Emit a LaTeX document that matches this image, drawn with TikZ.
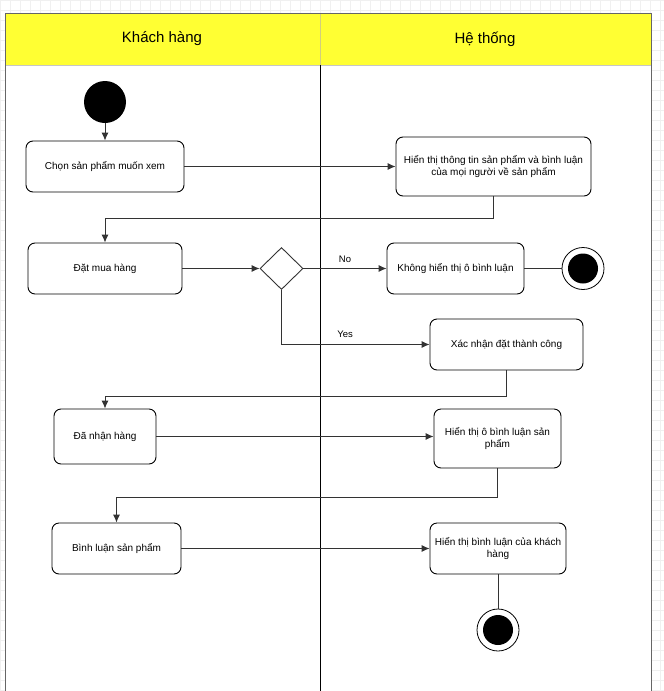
\documentclass[tikz,border=0pt]{standalone}
\usepackage{fontspec}
\setmainfont{Liberation Sans}
\usetikzlibrary{shapes.geometric,arrows.meta}
\definecolor{hdr}{HTML}{FFFF33}
\definecolor{gridc}{HTML}{F0F0F0}
\definecolor{framec}{HTML}{666666}
\definecolor{linec}{HTML}{333333}
\begin{document}
\begin{tikzpicture}[x=1pt,y=-1pt,
  act/.style={draw=black, line width=0.9pt, rounded corners=7pt, align=center,
    font=\fontsize{10}{12.5}\selectfont, inner sep=2pt, fill=white},
  decision/.style={diamond, draw=linec, line width=0.9pt, fill=white, inner sep=0pt, minimum width=43pt, minimum height=42pt},
  startnode/.style={circle, fill=black, inner sep=0pt, minimum size=42pt},
  endnode/.style={circle, draw=black, line width=0.8pt, fill=white, inner sep=0pt, minimum size=42pt},
  arr/.style={draw=linec, line width=0.9pt, -{Latex[length=8pt,width=7pt]}},
  plain/.style={draw=linec, line width=0.9pt},
  lbl/.style={font=\fontsize{9.5}{11}\selectfont, inner sep=0pt},
  hdrtext/.style={font=\fontsize{15}{18}\selectfont, inner sep=0pt}
]
\useasboundingbox (0,0) rectangle (664,691);
\fill[white] (0,0) rectangle (664,691);
\draw[gridc, line width=0.5pt, step=10pt] (0,0) grid (664,691);
% pool
\fill[white] (5,65) rectangle (651,691);
\fill[hdr] (5,13) rectangle (651,65);
\draw[gray!45, line width=0.8pt] (5,65) -- (651,65);
\draw[olive!40, line width=0.8pt] (320,13) -- (320,65);
\draw[black, line width=0.9pt] (320,65) -- (320,691);
\draw[framec, line width=0.9pt] (5,691) -- (5,13) -- (651,13) -- (651,691);
\node[hdrtext] (h1) at (162,39) {Khách hàng};
\node[hdrtext] (h2) at (485,39) {Hệ thống};
% nodes
\node[startnode] (start) at (105,102) {};
\node[act, minimum width=158pt, minimum height=51pt] (chon) at (105,166.5) {Chọn sản phẩm muốn xem};
\node[act, minimum width=195pt, minimum height=59pt] (hienthi) at (493.5,166.5) {Hiển thị thông tin sản phẩm và bình luận\\của mọi người về sản phẩm};
\node[act, minimum width=154pt, minimum height=51pt] (dat) at (105,268.5) {Đặt mua hàng};
\node[decision] (dec) at (281.5,268.5) {};
\node[act, minimum width=137pt, minimum height=51pt] (khong) at (455.5,268.5) {Không hiển thị ô bình luận};
\node[endnode] (end1) at (583,268.5) {};
\fill[black] (end1.center) circle (15pt);
\node[act, minimum width=153pt, minimum height=51pt] (xac) at (506.5,344.5) {Xác nhận đặt thành công};
\node[act, minimum width=102pt, minimum height=55pt] (danhan) at (105,436.5) {Đã nhận hàng};
\node[act, minimum width=127pt, minimum height=59pt] (hto) at (497.5,438.5) {Hiển thị ô bình luận sản\\phẩm};
\node[act, minimum width=129pt, minimum height=51pt] (binh) at (116.5,548.5) {Bình luận sản phẩm};
\node[act, minimum width=136pt, minimum height=51pt] (htbl) at (498,548.5) {Hiển thị bình luận của khách\\hàng};
\node[endnode] (end2) at (498,630) {};
\fill[black] (end2.center) circle (15pt);
% connectors
\draw[arr] (start.south) -- (chon.north);
\draw[arr] (chon.east) -- (hienthi.west);
\draw[arr] (hienthi.south) -- ++(0,22) -| (dat.north);
\draw[arr] (dat.east) -- (dec.west);
\draw[arr] (dec.east) -- node[lbl, pos=0.5, above=5pt] (no) {No} (khong.west);
\draw[arr] (dec.south) |- node[lbl, pos=0.715, above=6pt] (yes) {Yes} (xac.west);
\draw[plain] (khong.east) -- (end1.west);
\draw[arr] (xac.south) -- ++(0,26) -| (danhan.north);
\draw[arr] (danhan.east) -- (danhan.east -| hto.west);
\draw[arr] (hto.south) -- ++(0,29) -| (binh.north);
\draw[arr] (binh.east) -- (htbl.west);
\draw[plain] (htbl.south) -- (end2.north);
\end{tikzpicture}
\end{document}
